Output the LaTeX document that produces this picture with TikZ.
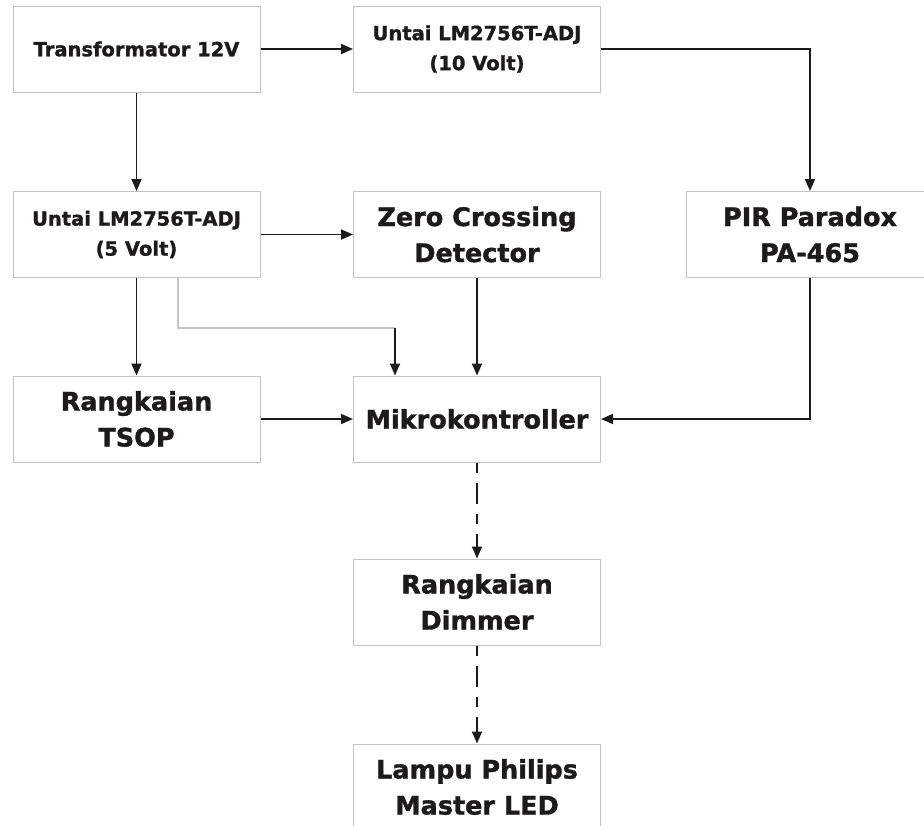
\documentclass[tikz,border=0pt]{standalone}
\usepackage{fontspec}
\setmainfont{DejaVu Sans}[BoldFeatures={FakeBold=1.3}]
\usetikzlibrary{arrows.meta,calc}
\definecolor{boxline}{HTML}{C4C4C4}
\definecolor{ink}{HTML}{1C1A1A}
\tikzset{
  blk/.style={draw=boxline, line width=1pt, fill=white, minimum width=247pt, minimum height=86pt, inner sep=0pt, align=center, text=ink},
  smalltxt/.style={font=\bfseries\fontsize{19.5}{30}\selectfont},
  bigtxt/.style={font=\bfseries\fontsize{25.5}{36}\selectfont},
  arr/.style={draw=ink, line width=1.8pt, -{Triangle[length=12pt,width=10pt]}},
  dasharr/.style={arr, dash pattern=on 10pt off 10pt on 21pt off 10pt},
  thin/.style={draw=boxline, line width=1.1pt}
}
\begin{document}
\begin{tikzpicture}[x=1pt,y=-1pt]
\useasboundingbox (0,0) rectangle (924,825);
\clip (0,0) rectangle (924,825);
\fill[white] (0,0) rectangle (924,825);
\node[blk,smalltxt] (trafo) at (136.5,49) {Transformator 12V};
\node[blk,smalltxt] (u10) at (477,49) {Untai LM2756T-ADJ\\(10 Volt)};
\node[blk,smalltxt] (u5) at (136.5,234.5) {Untai LM2756T-ADJ\\(5 Volt)};
\node[blk,bigtxt] (zcd) at (477,234.5) {Zero Crossing\\Detector};
\node[blk,bigtxt] (pir) at (810,234.5) {PIR Paradox\\PA-465};
\node[blk,bigtxt] (tsop) at (136.5,419) {Rangkaian\\TSOP};
\node[blk,bigtxt] (mcu) at (477,419) {Mikrokontroller};
\node[blk,bigtxt] (dim) at (477,602) {Rangkaian\\Dimmer};
\node[blk,bigtxt] (lamp) at (477,787) {Lampu Philips\\Master LED};
\coordinate (g0) at (178,277);
\coordinate (g2) at (395,328);
\draw[arr] (trafo) -- (u10);
\draw[arr] (trafo) -- (u5);
\draw[arr] (u10.east) -| (pir.north);
\draw[arr] (u5) -- (zcd);
\draw[arr] (u5) -- (tsop);
\draw[thin] (g0) |- (g2);
\draw[arr] (g2) -- (g2 |- mcu.north);
\draw[arr] (zcd) -- (mcu);
\draw[arr] (tsop) -- (mcu);
\draw[arr] (pir.south) |- (mcu.east);
\draw[dasharr] (mcu) -- (dim);
\draw[dasharr] (dim) -- (lamp);
\end{tikzpicture}
\end{document}
